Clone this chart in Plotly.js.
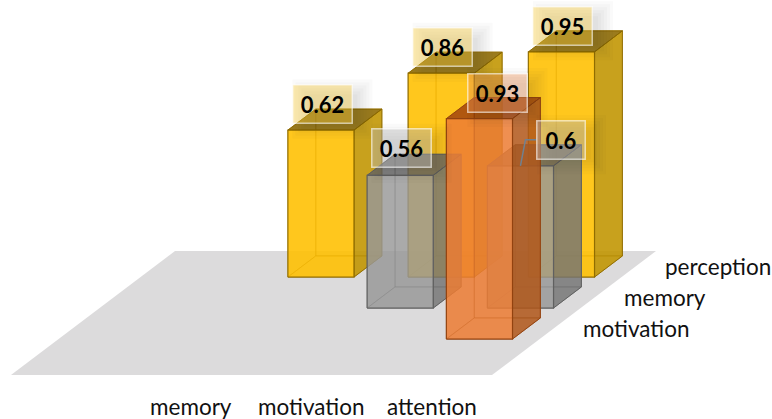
<!DOCTYPE html>
<html>
<head>
<meta charset="utf-8">
<script src="https://cdn.plot.ly/plotly-3.0.1.min.js"></script>
<style>html,body{margin:0;padding:0;background:#fff;overflow:hidden}#chart{width:772px;height:419px}</style>
</head>
<body>
<div id="chart"></div>
<script>
// Categories and values
const columnLabels = ['memory', 'motivation', 'attention'];
const rowLabels = ['motivation', 'memory', 'perception'];
const motivationValues = [null, null, 0.93];
const memoryValues = [null, 0.56, 0.6];
const perceptionValues = [0.62, 0.86, 0.95];

// Oblique projection: columns run across, rows recede up and to the right.
const SHEAR_X = 0.341;
const SHEAR_Y = 0.1308;
const PX_PER_COLUMN = 120.25;
const PX_PER_VALUE = 237;
const GRID_CELLS = 4;
const BAR_U = [0.225, 0.775];
const BAR_V = [0.16, 0.84];
const project = (u, v, z) => [u + SHEAR_X * v, z + SHEAR_Y * v];

const poly = (pts, fill, line, lw, name) => {
  const p = pts.map(q => project(q[0], q[1], q[2]));
  p.push(p[0]);
  return {
    type: 'scatter', mode: lw ? 'lines' : 'none', name,
    x: p.map(q => q[0]), y: p.map(q => q[1]),
    fill: 'toself', fillcolor: fill,
    line: {color: line, width: lw || 0},
    hoverinfo: 'skip', showlegend: false
  };
};

// Per-series face colours
const styles = [
  {front: 'rgba(236,124,52,0.62)', side: 'rgba(153,72,16,0.62)', top: 'rgba(137,50,0,0.64)',
   edge: 'rgba(145,65,15,0.95)', inner: 'rgba(160,75,20,0.4)', label: 'rgba(245,150,90,0.38)'},
  {front: 'rgba(152,152,152,0.58)', side: 'rgba(102,102,102,0.58)', top: 'rgba(80,80,80,0.58)',
   edge: 'rgba(95,95,95,0.95)', inner: 'rgba(110,110,110,0.45)', label: 'rgba(190,190,190,0.42)'},
  {front: 'rgba(255,192,0,0.66)', side: 'rgba(171,133,0,0.66)', top: 'rgba(103,76,0,0.66)',
   edge: 'rgba(140,105,0,0.9)', inner: 'rgba(190,140,0,0.5)', label: 'rgba(250,205,60,0.4)'}
];

const barFaces = (c, r, value, s) => {
  const u0 = c + BAR_U[0], u1 = c + BAR_U[1];
  const v0 = r + BAR_V[0], v1 = r + BAR_V[1];
  return [
    poly([[u0,v1,0],[u1,v1,0],[u1,v1,value],[u0,v1,value]], s.front, s.inner, 1, 'back'),
    poly([[u0,v0,0],[u0,v1,0],[u0,v1,value],[u0,v0,value]], s.front, s.inner, 1, 'left'),
    poly([[u0,v0,0],[u1,v0,0],[u1,v1,0],[u0,v1,0]], s.front, s.inner, 1, 'bottom'),
    poly([[u1,v0,0],[u1,v1,0],[u1,v1,value],[u1,v0,value]], s.side, s.edge, 1, 'right'),
    poly([[u0,v0,value],[u1,v0,value],[u1,v1,value],[u0,v1,value]], s.top, s.edge, 1, 'top'),
    poly([[u0,v0,0],[u1,v0,0],[u1,v0,value],[u0,v0,value]], s.front, s.edge, 1.2, 'front')
  ];
};

const rows = [motivationValues, memoryValues, perceptionValues];
const traces = [poly([[0,0,0],[GRID_CELLS,0,0],[GRID_CELLS,GRID_CELLS,0],[0,GRID_CELLS,0]], '#dcdbdc', '#dcdbdc', 0, 'floor')];

// Paint from the back row forward, so nearer bars tint what lies behind them.
for (let i = rows.length - 1; i >= 0; i--) {
  rows[i].forEach((value, j) => {
    if (value !== null) traces.push(...barFaces(j + 1, i + 1, value, styles[i]));
  });
}

// Pixel offsets of the data labels from the centre of each bar's top face
const DEFAULT_SHIFT = [-12.5, 15.5];
const labelShift = {'0,2': [4, 15.5], '1,2': [27, 15.5], '1,1': [-12.5, 16.5]};
const toUnitsX = px => px / PX_PER_COLUMN;
const toUnitsY = px => px / PX_PER_VALUE;

const annotations = [];
const shapes = [];
rows.forEach((vals, i) => {
  vals.forEach((value, j) => {
    if (value === null) return;
    const c = j + 1, r = i + 1;
    const [cx, cy] = project(c + 0.5, r + 0.5, value);
    const shift = labelShift[i + ',' + j] || DEFAULT_SHIFT;
    const text = String(value);
    const w = text.length > 3 ? 58 : 47;
    const h = 37;
    // soft drop shadow built from stacked translucent rectangles
    const lx = cx + toUnitsX(shift[0]), ly = cy + toUnitsY(shift[1]);
    [11, 8, 5, 2, -1, -4].forEach(grow => {
      shapes.push({
        type: 'rect', layer: 'above', xref: 'x', yref: 'y',
        x0: lx + toUnitsX(-w / 2 + 10 - grow), x1: lx + toUnitsX(w / 2 + 10 + grow),
        y0: ly + toUnitsY(-h / 2 - 5 - grow), y1: ly + toUnitsY(h / 2 - 5 + grow),
        fillcolor: 'rgba(60,60,60,0.022)', line: {width: 0}
      });
    });
    annotations.push({
      x: cx, y: cy, xref: 'x', yref: 'y', xshift: shift[0], yshift: shift[1],
      text: '<b>' + text + '</b>', showarrow: false, width: w, height: h,
      align: 'center', valign: 'middle', borderpad: 0, borderwidth: 1.5,
      bgcolor: styles[i].label, bordercolor: 'rgba(255,255,255,0.6)',
      font: {family: 'Lato, "Open Sans", sans-serif', size: 22, color: '#000'}
    });
  });
});

// Leader line from the 0.6 bar to its moved label
{
  const [sx, sy] = project(3 + 0.5, 2 + BAR_V[0], memoryValues[2]);
  const ex = sx + toUnitsX(5), ey = sy + toUnitsY(26);
  traces.push({
    type: 'scatter', mode: 'lines', x: [sx, ex, ex + toUnitsX(11)], y: [sy, ey, ey],
    line: {color: '#71808f', width: 1.5}, hoverinfo: 'skip', showlegend: false
  });
}

// Category labels along the front edge and the receding right edge
columnLabels.forEach((label, j) => {
  const [x] = project(j + 1.5, 0, 0);
  annotations.push({x, y: 0, xref: 'x', yref: 'y', yshift: -31, text: label, showarrow: false,
    font: {family: 'Lato, sans-serif', size: 22.5, color: '#111'}});
});
rowLabels.forEach((label, i) => {
  const [x, y] = project(GRID_CELLS, i + 1.5, 0);
  annotations.push({x, y, xref: 'x', yref: 'y', xanchor: 'left', xshift: 27, text: label, showarrow: false,
    font: {family: 'Lato, sans-serif', size: 22.5, color: '#111'}});
});

const layout = {
  width: 772, height: 419,
  margin: {l: 0, r: 0, t: 0, b: 0},
  paper_bgcolor: '#fff', plot_bgcolor: '#fff',
  xaxis: {range: [-11 / PX_PER_COLUMN, 761 / PX_PER_COLUMN], visible: false, fixedrange: true},
  yaxis: {range: [-44 / PX_PER_VALUE, 375 / PX_PER_VALUE], visible: false, fixedrange: true},
  showlegend: false, annotations, shapes
};
Plotly.newPlot('chart', traces, layout, {displayModeBar: false, staticPlot: true});
</script>
</body>
</html>
